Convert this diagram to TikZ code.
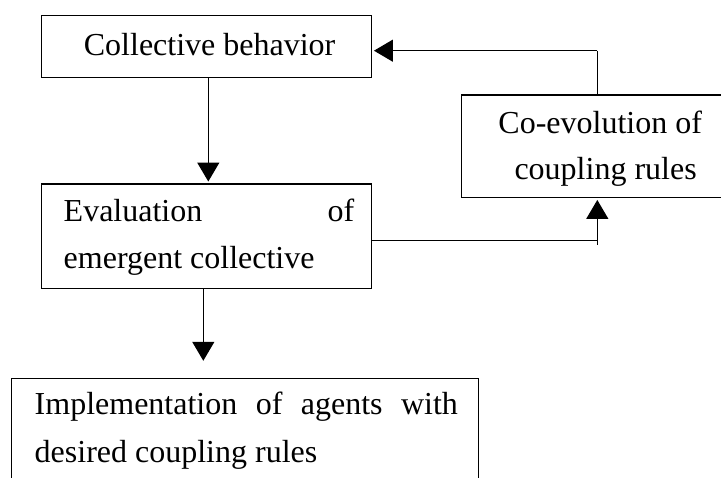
\documentclass[tikz,border=0pt]{standalone}
\usepackage{fontspec}
\setmainfont{Liberation Serif}
\usetikzlibrary{arrows.meta}
\begin{document}
\begin{tikzpicture}[x=1pt,y=-1pt,
  box/.style={draw, line width=1.5pt, inner sep=0pt},
  txt/.style={inner sep=0pt, font=\fontsize{32}{38}\selectfont},
  ln/.style={line width=1.3pt},
  arr/.style={line width=1.3pt, -{Triangle[length=19pt,width=22pt]}, shorten >=1.5pt}]
\useasboundingbox (0,0) rectangle (721,478);
\fill[white] (0,0) rectangle (721,478);
\clip (0,0) rectangle (721,478);
% boxes
\node[box, minimum width=330.3pt, minimum height=62pt] (coll) at (206.55,46.7) {};
\node[box, minimum width=330.3pt, minimum height=104.5pt] (eval) at (206.55,236.05) {};
\node[box, minimum width=278.6pt, minimum height=102.7pt] (coev) at (601,146.35) {};
\node[box, minimum width=466.8pt, minimum height=121.7pt] (impl) at (245,439.15) {};
% texts
\node[txt, anchor=base] (tcoll) at (209.6,56) {Collective behavior};
\node[txt, anchor=base west] (teval1) at (63.5,221.7) {\makebox[290.5pt][s]{Evaluation of}};
\node[txt, anchor=base west] (teval2) at (63.5,268.3) {emergent collective};
\node[txt, anchor=base] (tcoev1) at (600.2,134) {Co-evolution of};
\node[txt, anchor=base] (tcoev2) at (605.6,179.5) {coupling rules};
\node[txt, anchor=base west] (timpl1) at (34.5,415) {\makebox[423.2pt][s]{Implementation of agents with}};
\node[txt, anchor=base west] (timpl2) at (34.5,462.5) {desired coupling rules};
% connector helpers
\coordinate (a1) at (208.3,0);
\coordinate (k) at (597.3,50.7);
\coordinate (h) at (597.3,240.7);
\coordinate (hb) at (597.3,245);
\coordinate (dn) at (203.3,360.8);
% connectors
\draw[arr] (coll.south -| a1) -- (eval.north -| a1);
\draw[ln] (coev.north -| k) -- (k);
\draw[arr] (k) -- (coll.east |- k);
\draw[ln] (eval.east |- h) -- (h);
\draw[arr] (hb) -- (coev.south -| hb);
\draw[arr, shorten >=0pt] (eval.south -| dn) -- (dn);
\end{tikzpicture}
\end{document}
